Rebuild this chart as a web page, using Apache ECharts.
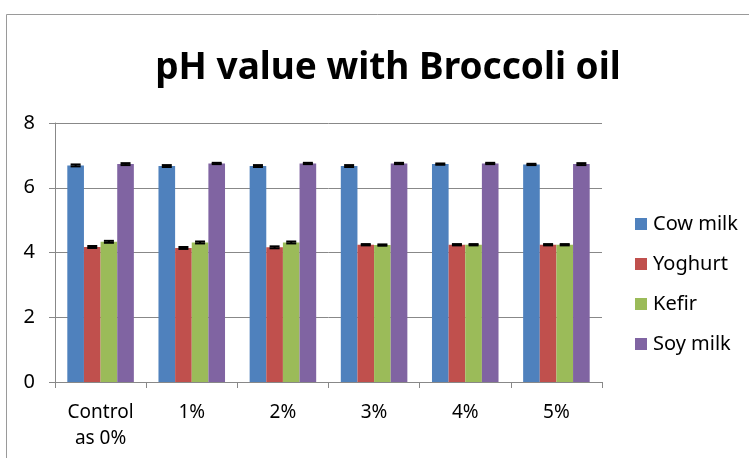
<!DOCTYPE html>
<html>
<head>
<meta charset="utf-8">
<script src="https://cdn.jsdelivr.net/npm/echarts@6/dist/echarts.min.js"></script>
<style>
html,body{margin:0;padding:0;background:#fff;}
#main{width:749px;height:458px;}
</style>
</head>
<body>
<div id="main"></div>
<script>
// 数据
var categories = ['Control\nas 0%', '1%', '2%', '3%', '4%', '5%'];
var seriesNames = ['Cow milk', 'Yoghurt', 'Kefir', 'Soy milk'];
var cowMilk = [6.69, 6.67, 6.67, 6.67, 6.73, 6.72];
var yoghurt = [4.17, 4.14, 4.16, 4.24, 4.24, 4.24];
var kefir   = [4.33, 4.31, 4.31, 4.23, 4.24, 4.24];
var soyMilk = [6.73, 6.75, 6.75, 6.75, 6.75, 6.73];
var errCow  = [0.03, 0.03, 0.03, 0.03, 0.02, 0.02];
var errYog  = [0.03, 0.03, 0.03, 0.02, 0.02, 0.02];
var errKef  = [0.03, 0.03, 0.03, 0.02, 0.02, 0.02];
var errSoy  = [0.03, 0.02, 0.02, 0.02, 0.02, 0.03];
var yTicks = [0, 2, 4, 6, 8];

var colors = ['#4F81BD', '#C0504D', '#9BBB59', '#8064A2'];
var allVals = [cowMilk, yoghurt, kefir, soyMilk];
var allErrs = [errCow, errYog, errKef, errSoy];
var gapRatio = 0.27; // barCategoryGap

var chart = echarts.init(document.getElementById('main'));

// 误差线数据 [类目, 系列序号, 值, 误差]
var errData = [];
for (var s = 0; s < allVals.length; s++) {
    for (var i = 0; i < categories.length; i++) {
        errData.push([i, s, allVals[s][i], allErrs[s][i]]);
    }
}

function renderErr(params, api) {
    var ci = api.value(0);
    var si = api.value(1);
    var v = api.value(2);
    var e = api.value(3);
    var catW = api.size([1, 0])[0];
    var used = catW * (1 - gapRatio);
    var barW = used / 4;
    var center = api.coord([ci, v]);
    var x = center[0] - used / 2 + barW * (si + 0.5);
    var top = api.coord([ci, v + e])[1];
    var bot = api.coord([ci, v - e])[1];
    var half = 5;
    var st = { stroke: '#000', lineWidth: 2 };
    return {
        type: 'group',
        children: [
            { type: 'line', shape: { x1: x, y1: top, x2: x, y2: bot }, style: st },
            { type: 'line', shape: { x1: x - half, y1: top, x2: x + half, y2: top }, style: st },
            { type: 'line', shape: { x1: x - half, y1: bot, x2: x + half, y2: bot }, style: st }
        ]
    };
}

var series = [];
for (var k = 0; k < seriesNames.length; k++) {
    series.push({
        name: seriesNames[k],
        type: 'bar',
        data: allVals[k],
        barGap: '0%',
        barCategoryGap: (gapRatio * 100) + '%',
        itemStyle: { color: colors[k] },
        silent: true
    });
}
series.push({
    type: 'custom',
    renderItem: renderErr,
    data: errData,
    encode: { x: 0, y: 2 },
    z: 10,
    silent: true
});

var option = {
    backgroundColor: '#fff',
    animation: false,
    title: {
        text: 'pH value with Broccoli oil',
        left: 383,
        top: 45,
        textAlign: 'center',
        textStyle: {
            fontFamily: 'Noto Sans',
            fontSize: 37,
            fontWeight: 'bold',
            color: '#000'
        }
    },
    graphic: [{
        type: 'polyline',
        shape: { points: [[6.5, 458], [6.5, 14.5], [749, 14.5]] },
        style: { stroke: '#9a9a9a', lineWidth: 1, fill: null },
        silent: true
    }],
    legend: {
        orient: 'vertical',
        left: 630,
        top: 209,
        itemWidth: 12,
        itemHeight: 12,
        itemGap: 20,
        icon: 'rect',
        data: seriesNames,
        textStyle: { fontFamily: 'Noto Sans', fontSize: 20, color: '#000', padding: [0, 0, 0, 1] }
    },
    grid: {
        left: 55,
        right: 147,
        top: 123,
        bottom: 76
    },
    xAxis: {
        type: 'category',
        data: categories,
        axisLine: { lineStyle: { color: '#888', width: 1 } },
        axisTick: { show: true, length: 6, lineStyle: { color: '#888' } },
        axisLabel: {
            fontFamily: 'Noto Sans',
            fontSize: 19,
            color: '#000',
            margin: 18,
            lineHeight: 26
        }
    },
    yAxis: {
        type: 'value',
        min: yTicks[0],
        max: yTicks[yTicks.length - 1],
        interval: 2,
        axisLine: { show: true, lineStyle: { color: '#888', width: 1 } },
        axisTick: { show: true, length: 6, lineStyle: { color: '#888' } },
        splitLine: { lineStyle: { color: '#888', width: 1 } },
        axisLabel: {
            fontFamily: 'Noto Sans',
            fontSize: 20,
            color: '#000',
            margin: 20
        }
    },
    series: series
};

chart.setOption(option);
</script>
</body>
</html>
